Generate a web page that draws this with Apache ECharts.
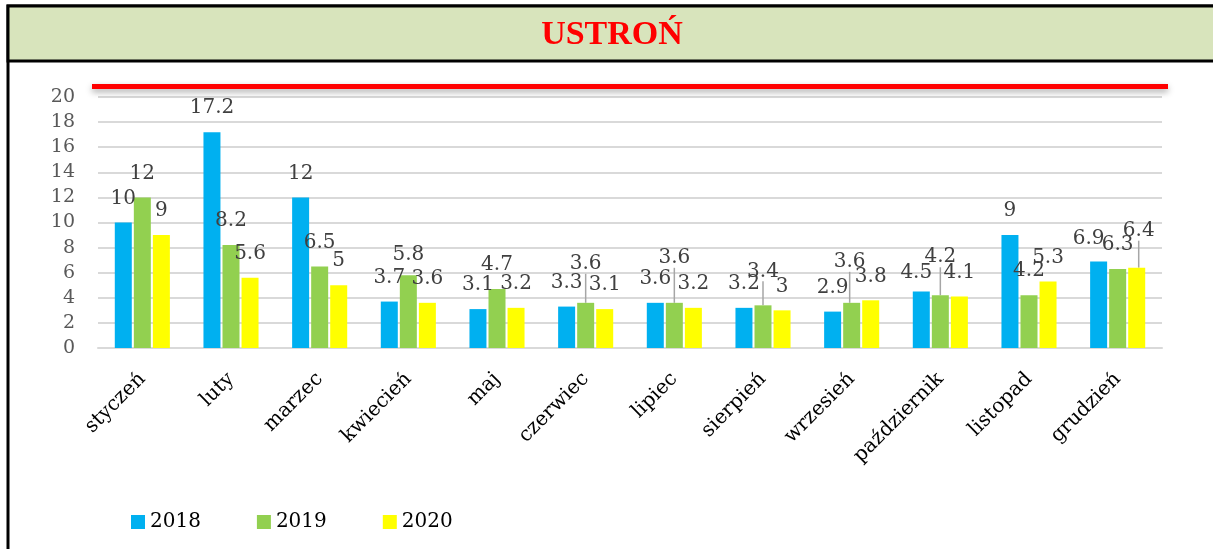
<!DOCTYPE html>
<html>
<head>
<meta charset="utf-8">
<script src="https://cdn.jsdelivr.net/npm/echarts@6/dist/echarts.min.js"></script>
<style>
  html, body { margin: 0; padding: 0; background: #fff; }
  #chart { width: 1213px; height: 549px; }
</style>
</head>
<body>
<div id="chart"></div>
<script>
'use strict';

const months = ['styczeń', 'luty', 'marzec', 'kwiecień', 'maj', 'czerwiec', 'lipiec',
    'sierpień', 'wrzesień', 'październik', 'listopad', 'grudzień'];
const years = ['2018', '2019', '2020'];
const v2018 = [10, 17.2, 12, 3.7, 3.1, 3.3, 3.6, 3.2, 2.9, 4.5, 9, 6.9];
const v2019 = [12, 8.2, 6.5, 5.8, 4.7, 3.6, 3.6, 3.4, 3.6, 4.2, 4.2, 6.3];
const v2020 = [9, 5.6, 5, 3.6, 3.2, 3.1, 3.2, 3, 3.8, 4.1, 5.3, 6.4];
const yTicks = [0, 2, 4, 6, 8, 10, 12, 14, 16, 18, 20];
const colors = ['#00b0f0', '#92d050', '#ffff00'];

// labels moved by hand in the original (series-month: dx, dy, leader line)
const moved = {
    '1-3': [0, 4, false],
    '1-5': [0, -15, true],
    '1-6': [0, -21, true],
    '1-7': [0, -10, true],
    '1-8': [-2, -17, true],
    '0-9': [-5, 5, false],
    '1-9': [0, -14, true],
    '0-11': [-10, 1, false],
    '2-11': [2, -13, true]
};

const serif = 'DejaVu Serif';

function makeData(vals, si) {
    return vals.map(function (v, i) {
        const m = moved[si + '-' + i];
        if (m && m[2]) {
            return { value: v, labelLine: { show: true } };
        }
        return v;
    });
}

const allVals = [v2018, v2019, v2020];
const series = years.map(function (y, si) {
    return {
        name: y,
        type: 'bar',
        data: makeData(allVals[si], si),
        barWidth: 17,
        barGap: '12%',
        itemStyle: { color: colors[si] },
        label: {
            show: true,
            position: 'top',
            distance: 14,
            color: '#404040',
            fontFamily: serif,
            fontSize: 20
        },
        labelLine: {
            show: false,
            lineStyle: { color: '#a6a6a6', width: 1.5 }
        },
        labelLayout: function (p) {
            const m = moved[p.seriesIndex + '-' + p.dataIndex];
            if (!m) return {};
            return { dx: m[0], dy: m[1] };
        }
    };
});

const chart = echarts.init(document.getElementById('chart'));
chart.setOption({
    animation: false,
    graphic: [
        {
            type: 'rect', z: -10,
            shape: { x: 8, y: 6, width: 1240, height: 580 },
            style: { fill: '#fff', stroke: '#000', lineWidth: 3 }
        },
        {
            type: 'rect', z: -9,
            shape: { x: 8, y: 6, width: 1240, height: 55 },
            style: { fill: '#d8e4bc', stroke: '#000', lineWidth: 3 }
        },
        {
            type: 'text', z: 10,
            x: 612, y: 35,
            style: {
                text: 'USTROŃ', fill: '#ff0000',
                font: 'bold 34px "Liberation Serif"',
                textAlign: 'center', textVerticalAlign: 'middle'
            }
        },
        {
            type: 'rect', z: 10,
            shape: { x: 92, y: 84, width: 1076, height: 5 },
            style: {
                fill: '#ff0000',
                shadowBlur: 6, shadowOffsetY: 3,
                shadowColor: 'rgba(0,0,0,0.35)'
            }
        }
    ],
    grid: { left: 98, right: 51, top: 97, bottom: 201 },
    legend: {
        data: years,
        left: 126, top: 507,
        itemWidth: 14, itemHeight: 14, itemGap: 56,
        icon: 'rect',
        textStyle: { fontFamily: serif, fontSize: 20, color: '#000' }
    },
    xAxis: {
        type: 'category',
        data: months,
        axisLine: { lineStyle: { color: '#d9d9d9', width: 2 } },
        axisTick: { show: false },
        axisLabel: {
            rotate: 45, margin: 28, interval: 0,
            fontFamily: serif, fontSize: 20, color: '#000'
        }
    },
    yAxis: {
        type: 'value',
        min: yTicks[0], max: yTicks[yTicks.length - 1], interval: 2,
        axisLine: { show: false },
        axisTick: { show: false },
        splitLine: { lineStyle: { color: '#d9d9d9', width: 2 } },
        axisLabel: {
            margin: 23,
            fontFamily: serif, fontSize: 19, color: '#595959'
        }
    },
    series: series
});
</script>
</body>
</html>
